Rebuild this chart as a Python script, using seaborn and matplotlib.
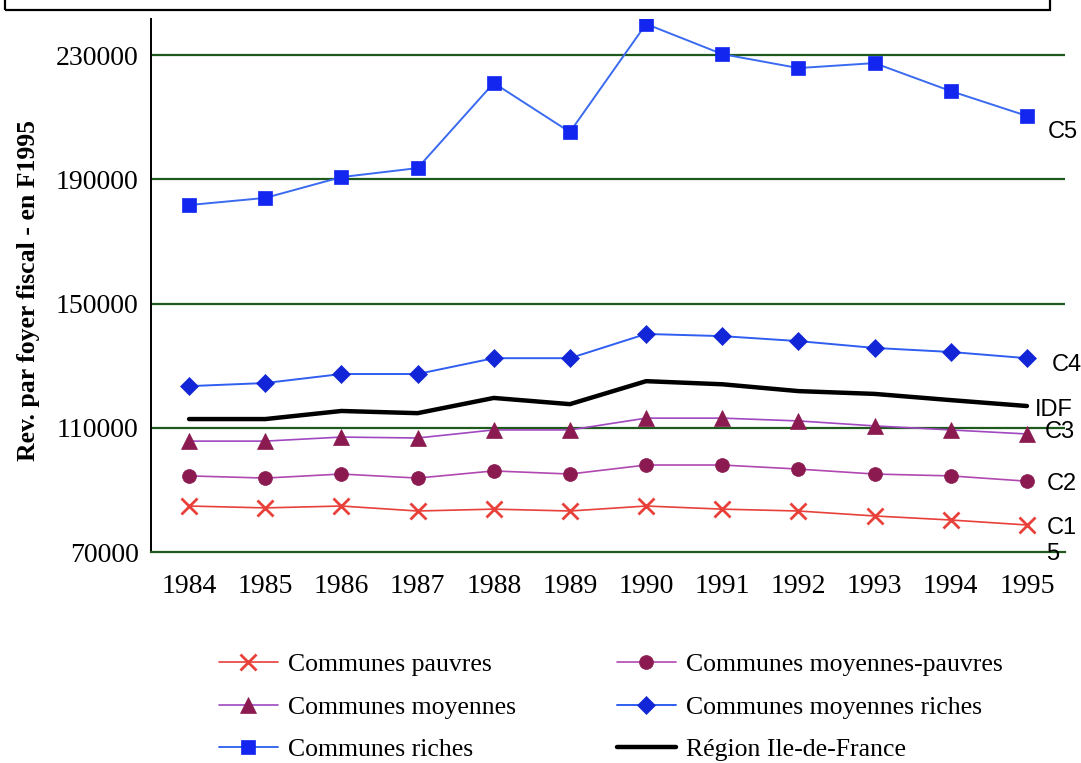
import numpy as np
import pandas as pd
import matplotlib
matplotlib.use("Agg")
import matplotlib.pyplot as plt
from matplotlib.patches import Rectangle
import seaborn as sns

years = [1984, 1985, 1986, 1987, 1988, 1989, 1990, 1991, 1992, 1993, 1994, 1995]
c1_pauvres = [84800, 84200, 84800, 83200, 83800, 83200, 84800, 83800, 83200, 81600, 80300, 78700]
c2_moy_pauvres = [94500, 93800, 95100, 93800, 96100, 95100, 98000, 98000, 96700, 95100, 94500, 92800]
c3_moyennes = [105700, 105700, 107000, 106700, 109300, 109300, 113100, 113100, 112200, 110600, 109300, 108000]
c4_moy_riches = [123400, 124400, 127300, 127300, 132400, 132400, 140200, 139500, 137900, 135700, 134400, 132400]
c5_riches = [181700, 184000, 190700, 193600, 221000, 205200, 240000, 230300, 225800, 227400, 218400, 210400]
idf = [112800, 112800, 115400, 114700, 119600, 117600, 125000, 124000, 121800, 120900, 118900, 117000]

legend_labels = ["Communes pauvres", "Communes moyennes-pauvres", "Communes moyennes",
                 "Communes moyennes riches", "Communes riches", "Région Ile-de-France"]
y_ticks = [70000, 110000, 150000, 190000, 230000]

sns.set_style("white")
plt.rcParams["font.family"] = ["Liberation Serif", "DejaVu Serif"]
for k in ["text.color", "axes.labelcolor", "xtick.color", "ytick.color"]:
    plt.rcParams[k] = "black"

fig = plt.figure(figsize=(10.81, 7.63), dpi=100)
ax = fig.add_axes([151/1081, 1-552/763, (1065-151)/1081, (552-19)/763])

grid_color = "#1e5a1e"
for yv in y_ticks[1:]:
    ax.axhline(yv, color=grid_color, lw=1.6, zorder=1)

styles = [
    (c1_pauvres, "x", "#e8403a", "#e8403a", 1.2, 11),
    (c2_moy_pauvres, "o", "#b048b0", "#8a1a50", 1.2, 10),
    (c3_moyennes, "^", "#a048c0", "#8a1a50", 1.2, 12),
    (c4_moy_riches, "D", "#2f5ef0", "#1226d8", 1.4, 9.5),
    (c5_riches, "s", "#3a6af0", "#1226f0", 1.4, 10),
]
for (vals, mk, lc, mc, lw, ms), lab in zip(styles, legend_labels[:5]):
    df = pd.DataFrame({"year": years, "val": vals})
    sns.lineplot(data=df, x="year", y="val", ax=ax, color=lc, lw=lw, marker=mk,
                 markersize=ms, markerfacecolor=mc, markeredgecolor=mc,
                 markeredgewidth=2 if mk == "x" else 0.5, label=lab, zorder=3)
df = pd.DataFrame({"year": years, "val": idf})
sns.lineplot(data=df, x="year", y="val", ax=ax, color="black", lw=3.2,
             label=legend_labels[5], zorder=3)

ax.set_xlim(1983.5, 1995.5)
ax.set_ylim(70000, 241600)
ax.set_yticks(y_ticks)
ax.set_yticklabels([str(v) for v in y_ticks], fontsize=20)
ax.set_xticks(years)
ax.set_xticklabels([str(y) for y in years], fontsize=20)
ax.set_xticks(np.arange(1984.5, 1995.5, 1), minor=True)
ax.tick_params(axis="x", which="major", length=0, pad=16)
ax.tick_params(axis="x", which="minor", length=7, width=1.2, direction="out", color="black")
ax.tick_params(axis="y", which="major", length=12, width=1.2, direction="inout", color="black", pad=3)
ax.set_xlabel("")
ax.set_ylabel("Rev. par foyer fiscal - en F1995", fontsize=18.5, fontweight="bold")
ax.yaxis.set_label_coords(-0.121, 0.49)

for s in ["top", "right"]:
    ax.spines[s].set_visible(False)
ax.spines["left"].set_color("black")
ax.spines["left"].set_linewidth(1.4)
ax.spines["bottom"].set_color(grid_color)
ax.spines["bottom"].set_linewidth(1.6)

# end labels
lab_font = dict(family=["Liberation Sans", "DejaVu Sans"], fontsize=17, va="center", clip_on=False)
ax.text(1995.27, 205300, "C5", **lab_font)
ax.text(1995.32, 130200, "C4", **lab_font)
ax.text(1995.1, 115800, "IDF", **lab_font)
ax.text(1995.24, 108600, "C3", **lab_font)
ax.text(1995.26, 92000, "C2", **lab_font)
ax.text(1995.26, 77600, "C1", **lab_font)
ax.text(1995.25, 69300, "5", **lab_font)

# top frame remnant
fig.patches.append(Rectangle((5/1081, 1-10/763), 1045/1081, 0.05, transform=fig.transFigure,
                             fill=False, edgecolor="black", lw=1.6))

handles, labels = ax.get_legend_handles_labels()
order = [0, 2, 4, 1, 3, 5]
ax.legend([handles[i] for i in order], [labels[i] for i in order], ncol=2,
          loc="center", bbox_to_anchor=(0.565, 0.073), bbox_transform=fig.transFigure,
          frameon=False, fontsize=18.5, handlelength=2.3, columnspacing=3.93,
          labelspacing=0.76, handletextpad=0.4)

fig.savefig("out.png", dpi=100)
